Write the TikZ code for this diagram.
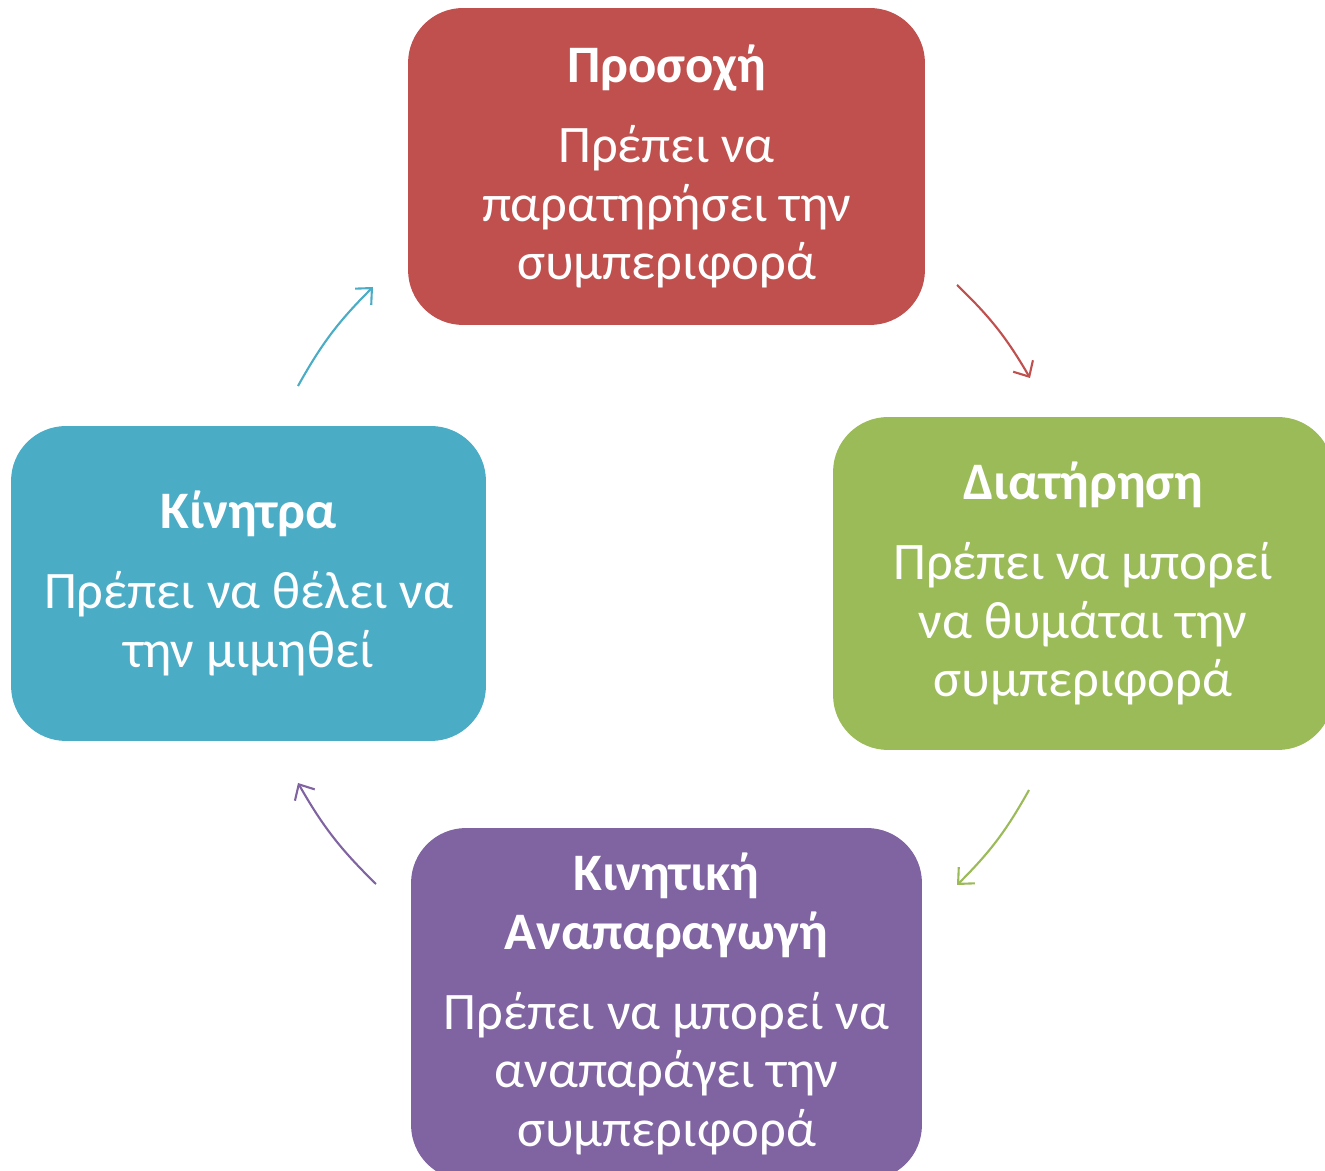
\documentclass[tikz,border=0pt]{standalone}
\usepackage{fontspec}
\setmainfont{Carlito}
\usetikzlibrary{arrows.meta}
\definecolor{cRed}{HTML}{C0504D}
\definecolor{cGreen}{HTML}{9BBB59}
\definecolor{cPurple}{HTML}{8064A2}
\definecolor{cBlue}{HTML}{4BACC6}
\tikzstyle{box}=[fill=#1,text=white,rounded corners=1.1cm,align=center,inner sep=0pt,font=\fontsize{30}{33.5}\selectfont]
\tikzstyle{arr}=[draw=#1,line width=1.2pt,-{Straight Barb[length=7pt,width=13pt]}]
\newcommand{\stage}[6]{\node[box=#1,minimum width=#4,minimum height=#5] (#2) at #3 {#6};}

\begin{document}
\begin{tikzpicture}[x=0.02cm,y=0.02cm]
    \useasboundingbox (0,0) rectangle (1325,1170);
    % the four stages
    \stage{cRed}{attention}{(666.5,1003.5)}{10.34cm}{6.34cm}{\textbf{Προσοχή}\\[12pt]Πρέπει να\\παρατηρήσει την\\συμπεριφορά}
    \stage{cGreen}{retention}{(1083,586.5)}{10cm}{6.66cm}{\textbf{Διατήρηση}\\[12pt]Πρέπει να μπορεί\\να θυμάται την\\συμπεριφορά}
    \stage{cPurple}{reproduction}{(666.5,166)}{10.22cm}{7.04cm}{\textbf{Κινητική}\\\textbf{Αναπαραγωγή}\\[12pt]Πρέπει να μπορεί να\\αναπαράγει την\\συμπεριφορά}
    \stage{cBlue}{motivation}{(248.5,586.5)}{9.5cm}{6.3cm}{\textbf{Κίνητρα}\\[12pt]Πρέπει να θέλει να\\την μιμηθεί}

    % arrow ends
    \coordinate (r1) at (957,885);
    \coordinate (r2) at (1030,792);
    \coordinate (g1) at (1029,380);
    \coordinate (g2) at (957,285);
    \coordinate (p1) at (376,286);
    \coordinate (p2) at (298,387);
    \coordinate (b1) at (298,784);
    \coordinate (b2) at (373,883);

    \draw[arr=cRed] (r1) to[bend left=8] (r2);
    \draw[arr=cGreen] (g1) to[bend left=8] (g2);
    \draw[arr=cPurple] (p1) to[bend left=8] (p2);
    \draw[arr=cBlue] (b1) to[bend left=8] (b2);
\end{tikzpicture}
\end{document}
